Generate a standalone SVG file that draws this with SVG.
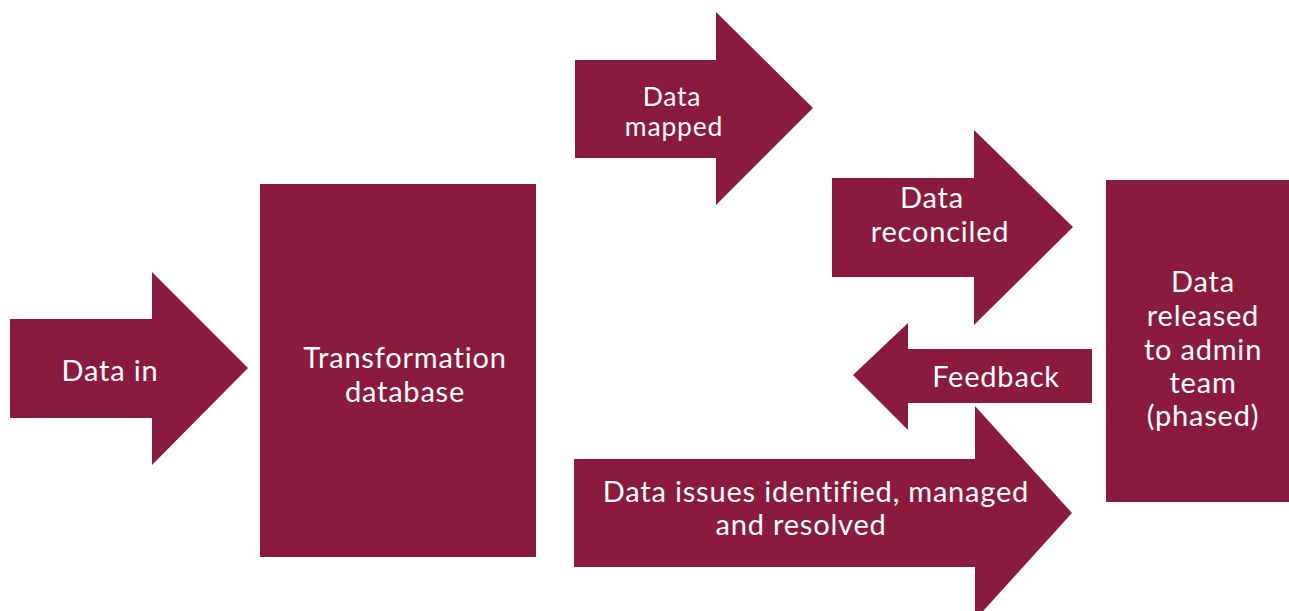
<svg xmlns="http://www.w3.org/2000/svg" width="1289" height="611" viewBox="0 0 1289 611">
<style>
.s{fill:#8A1B3F;}
.t{fill:#ffffff;font-family:Lato,"Open Sans","Liberation Sans",sans-serif;font-size:29px;letter-spacing:0.8px;text-anchor:middle;}
.m{font-size:26.5px;}
</style>
<rect width="1289" height="611" fill="#ffffff"/>
<g id="connectors">
<g id="data-in">
<polygon class="s" points="10,319 152,319 152,272 248,368 152,465 152,418 10,418"/>
<text class="t" x="110" y="381">Data in</text>
</g>
<g id="data-mapped">
<polygon class="s" points="575,60 716,60 716,12 813,108 716,205 716,158 575,158"/>
<text class="t m" x="672" y="106">Data</text>
<text class="t m" x="674" y="136">mapped</text>
</g>
<g id="data-reconciled">
<polygon class="s" points="832,178 974,178 974,130 1073,227 974,325 974,277 832,277"/>
<text class="t" x="932" y="208">Data</text>
<text class="t" x="940" y="242">reconciled</text>
</g>
<g id="feedback">
<polygon class="s" points="1092,349 908,349 908,323 853,375 908,430 908,403 1092,403"/>
<text class="t" x="996" y="387">Feedback</text>
</g>
<g id="data-issues">
<polygon class="s" points="574,459 975,459 975,406 1072,513 975,620 975,567 574,567"/>
<text class="t" x="816" y="502">Data issues identified, managed</text>
<text class="t" x="801" y="535">and resolved</text>
</g>
</g>
<g id="transformation-database">
<rect class="s" x="260" y="184" width="276" height="373"/>
<text class="t" x="405" y="368">Transformation</text>
<text class="t" x="405" y="402">database</text>
</g>
<g id="data-released">
<rect class="s" x="1106" y="180" width="183" height="322"/>
<text class="t" x="1203" y="292">Data</text>
<text class="t" x="1203" y="326">released</text>
<text class="t" x="1203" y="360">to admin</text>
<text class="t" x="1203" y="393">team</text>
<text class="t" x="1203" y="426">(phased)</text>
</g>
</svg>
